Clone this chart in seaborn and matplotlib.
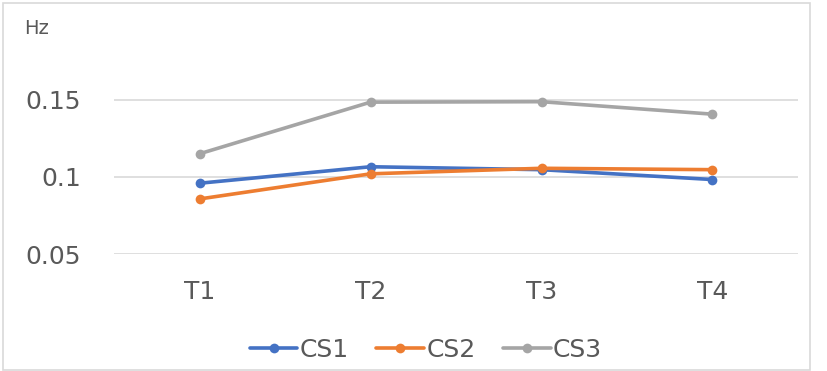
import matplotlib
matplotlib.use("Agg")
import matplotlib.pyplot as plt
import seaborn as sns
import pandas as pd
from matplotlib.patches import Rectangle

categories = ["T1", "T2", "T3", "T4"]
cs1 = [0.0959, 0.1066, 0.1047, 0.0983]
cs2 = [0.0857, 0.1020, 0.1056, 0.1047]
cs3 = [0.1150, 0.1485, 0.1488, 0.1407]
series_names = ["CS1", "CS2", "CS3"]
y_ticks = [0.05, 0.1, 0.15]
y_tick_labels = ["0.05", "0.1", "0.15"]

rows = []
for name, vals in zip(series_names, [cs1, cs2, cs3]):
    for c, v in zip(categories, vals):
        rows.append({"time": c, "value": v, "series": name})
df = pd.DataFrame(rows)

sns.set_style("white")
plt.rcParams["font.family"] = ["DejaVu Sans"]

fig = plt.figure(figsize=(8.27, 3.71), dpi=100)
ax = fig.add_axes([114 / 827, 1 - 254 / 371, (798 - 114) / 827, (254 - 69) / 371])

palette = {"CS1": "#4472C4", "CS2": "#ED7D31", "CS3": "#A5A5A5"}
sns.lineplot(data=df, x="time", y="value", hue="series", palette=palette,
             marker="o", markersize=7, markeredgewidth=0, linewidth=2.6,
             sort=False, ax=ax)

ax.set_xlim(-0.5, 3.5)
ax.set_ylim(0.05, 0.17)
ax.set_yticks(y_ticks)
ax.set_yticklabels(y_tick_labels)
ax.yaxis.grid(True, color="#D9D9D9", linewidth=1.2)
ax.set_axisbelow(True)
for s in ax.spines.values():
    s.set_visible(False)
ax.tick_params(axis="both", length=0, labelsize=18, labelcolor="#595959")
ax.tick_params(axis="y", pad=24)
ax.tick_params(axis="x", pad=19)
ax.set_xlabel("")
ax.set_ylabel("")

fig.text(24 / 827, 1 - 29 / 371, "Hz", fontsize=14, color="#595959", va="center", ha="left")

handles, labels = ax.get_legend_handles_labels()
ax.legend(handles, labels, loc="center", bbox_to_anchor=(426 / 827, 1 - 350 / 371),
          bbox_transform=fig.transFigure, ncol=3, frameon=False, fontsize=18,
          labelcolor="#595959", handlelength=1.9, handletextpad=0.1, columnspacing=1.1)

fig.patches.append(Rectangle((3 / 827, 1 / 371), 807 / 827, 367 / 371, transform=fig.transFigure,
                             fill=False, edgecolor="#D9D9D9", linewidth=1.2))

fig.savefig("out.png", dpi=100)
